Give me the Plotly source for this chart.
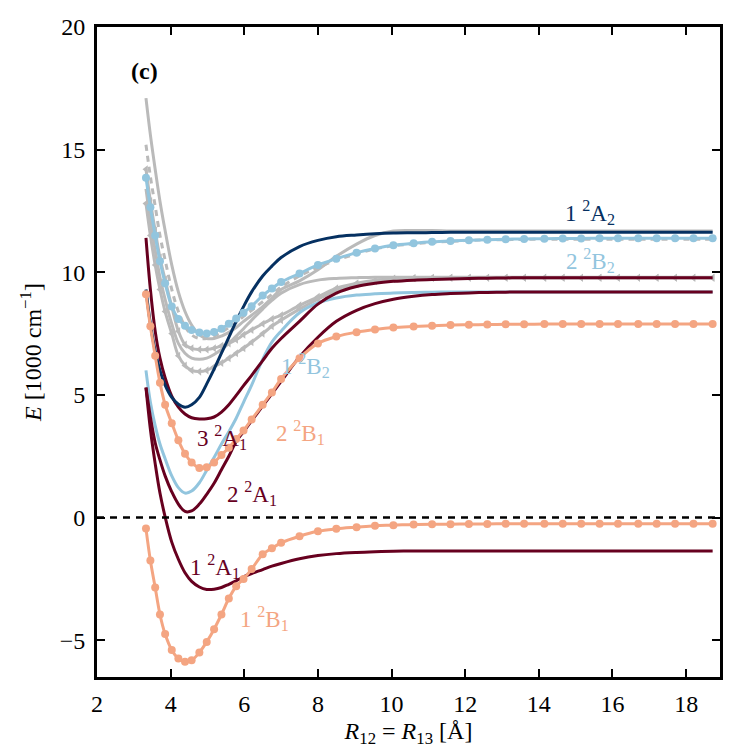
import plotly.graph_objects as go

# bond length grid [Angstrom]
R = [3.33, 3.45, 3.58, 3.71, 3.85, 4.03, 4.21, 4.39, 4.57, 4.78, 4.98, 5.18, 5.38, 5.58, 5.78, 5.98, 6.2, 6.5, 6.75,
     7.0, 7.5, 8.0, 8.5, 9.05, 9.55, 10.05, 10.6, 11.1, 11.6, 12.1, 12.6, 13.1, 13.6, 14.15, 14.65, 15.15, 15.65,
     16.15, 16.7, 17.2, 17.7, 18.2, 18.72]

# energies [1000 cm^-1]
E_1B1 = [-0.45, -1.75, -2.85, -3.95, -4.75, -5.4, -5.75, -5.88, -5.82, -5.5, -5.07, -4.55, -3.95, -3.3, -2.8, -2.5,
         -2.1, -1.5, -1.25, -1.03, -0.76, -0.56, -0.46, -0.39, -0.33, -0.31, -0.28, -0.27, -0.27, -0.26, -0.26,
         -0.25, -0.25, -0.25, -0.25, -0.25, -0.25, -0.25, -0.25, -0.25, -0.25, -0.25, -0.25]
E_2B1 = [9.1, 7.8, 6.6, 5.5, 4.6, 3.85, 3.15, 2.6, 2.25, 2.02, 2.05, 2.25, 2.55, 2.85, 3.2, 3.55, 4.0, 4.6, 5.1,
         5.65, 6.5, 7.1, 7.38, 7.56, 7.67, 7.75, 7.79, 7.82, 7.85, 7.86, 7.87, 7.88, 7.88, 7.89, 7.89, 7.89, 7.89,
         7.89, 7.89, 7.89, 7.89, 7.89, 7.89]
E_2B2 = [13.85, 12.65, 11.5, 10.45, 9.55, 8.6, 8.1, 7.82, 7.65, 7.55, 7.5, 7.57, 7.7, 7.9, 8.12, 8.35, 8.62, 9.05,
         9.34, 9.6, 9.95, 10.3, 10.55, 10.8, 10.97, 11.1, 11.18, 11.24, 11.28, 11.31, 11.33, 11.35, 11.36, 11.37,
         11.38, 11.38, 11.39, 11.39, 11.39, 11.39, 11.39, 11.39, 11.39]
E_1A2 = [9.3, 7.9, 6.8, 6.0, 5.4, 4.9, 4.62, 4.5, 4.6, 4.9, 5.45, 6.05, 6.7, 7.35, 8.0, 8.6, 9.2, 9.85, 10.25,
         10.6, 11.05, 11.3, 11.45, 11.52, 11.57, 11.6, 11.61, 11.62, 11.63, 11.63, 11.63, 11.63, 11.63, 11.63,
         11.63, 11.63, 11.63, 11.63, 11.63, 11.63, 11.63, 11.63, 11.63]
E_1B2 = [6.0, 4.7, 3.75, 3.0, 2.4, 1.7, 1.22, 1.0, 1.08, 1.42, 1.93, 2.45, 3.0, 3.5, 4.05, 4.7, 5.4, 6.45, 7.15,
         7.6, 8.35, 8.75, 8.95, 9.07, 9.12, 9.16, 9.18, 9.19, 9.2, 9.2, 9.2, 9.2, 9.2, 9.2, 9.2, 9.2, 9.2, 9.2, 9.2,
         9.2, 9.2, 9.2, 9.2]
E_1A1 = [5.3, 3.6, 2.2, 1.0, 0.03, -1.0, -1.7, -2.25, -2.6, -2.83, -2.93, -2.92, -2.85, -2.72, -2.58, -2.42,
         -2.28, -2.12, -1.98, -1.87, -1.68, -1.55, -1.47, -1.42, -1.39, -1.37, -1.36, -1.36, -1.36, -1.36, -1.36,
         -1.36, -1.36, -1.36, -1.36, -1.36, -1.36, -1.36, -1.36, -1.36, -1.36, -1.36, -1.36]
E_2A1 = [5.3, 4.1, 3.05, 2.35, 1.7, 1.05, 0.55, 0.25, 0.27, 0.55, 0.95, 1.4, 1.95, 2.5, 3.1, 3.5, 3.95, 4.55, 5.05,
         5.55, 6.55, 7.35, 8.0, 8.45, 8.72, 8.9, 9.02, 9.09, 9.13, 9.16, 9.18, 9.19, 9.2, 9.2, 9.2, 9.2, 9.2, 9.2,
         9.2, 9.2, 9.2, 9.2, 9.2]
E_3A1 = [11.4, 9.3, 7.6, 6.5, 5.7, 4.95, 4.5, 4.22, 4.07, 4.02, 4.03, 4.1, 4.3, 4.6, 4.98, 5.38, 5.8, 6.4, 6.9,
         7.3, 8.0, 8.7, 9.15, 9.42, 9.55, 9.63, 9.68, 9.71, 9.73, 9.75, 9.76, 9.77, 9.78, 9.78, 9.78, 9.78, 9.78,
         9.78, 9.78, 9.78, 9.78, 9.78, 9.78]

# reference calculations (grey)
G_solid_hi = [17.1, 15.6, 14.2, 12.9, 11.7, 10.3, 9.2, 8.4, 7.85, 7.45, 7.3, 7.3, 7.4, 7.55, 7.75, 8.0, 8.25, 8.6,
              8.95, 9.3, 9.65, 10.1, 10.65, 11.15, 11.5, 11.68, 11.7, 11.7, 11.68, 11.68, 11.68, 11.68, 11.68,
              11.68, 11.68, 11.68, 11.68, 11.68, 11.68, 11.68, 11.68, 11.68, 11.68]
G_dash_hi = [15.2, 13.9, 12.7, 11.5, 10.5, 9.3, 8.4, 7.8, 7.45, 7.3, 7.3, 7.4, 7.55, 7.75, 7.95, 8.2, 8.45, 8.8,
             9.1, 9.4, 9.85, 10.2, 10.5, 10.75, 10.95, 11.08, 11.16, 11.22, 11.26, 11.3, 11.32, 11.33, 11.34,
             11.35, 11.35, 11.35, 11.35, 11.35, 11.35, 11.35, 11.35, 11.35, 11.35]
G_tri_hi = [14.2, 12.9, 11.7, 10.6, 9.7, 8.6, 7.6, 7.05, 6.9, 6.85, 6.85, 6.9, 7.0, 7.1, 7.25, 7.45, 7.65, 7.9,
            8.1, 8.25, 8.65, 9.0, 9.35, 9.55, 9.68, 9.74, 9.77, 9.78, 9.78, 9.78, 9.78, 9.78, 9.78, 9.78, 9.78,
            9.78, 9.78, 9.78, 9.78, 9.78, 9.78, 9.78, 9.78]
G_solid_mid = [13.4, 12.1, 10.9, 9.8, 8.9, 7.9, 7.1, 6.7, 6.5, 6.45, 6.5, 6.65, 6.85, 7.1, 7.4, 7.7, 8.05, 8.5,
               8.85, 9.15, 9.5, 9.68, 9.75, 9.78, 9.8, 9.8, 9.8, 9.8, 9.8, 9.8, 9.8, 9.8, 9.8, 9.8, 9.8, 9.8, 9.8,
               9.8, 9.8, 9.8, 9.8, 9.8, 9.8]
G_tri_lo = [12.8, 11.5, 10.3, 9.3, 8.4, 7.5, 6.6, 6.2, 6.0, 5.95, 6.0, 6.15, 6.3, 6.5, 6.7, 6.9, 7.15, 7.5, 7.8,
            8.05, 8.5, 8.9, 9.25, 9.5, 9.64, 9.72, 9.76, 9.77, 9.78, 9.78, 9.78, 9.78, 9.78, 9.78, 9.78, 9.78,
            9.78, 9.78, 9.78, 9.78, 9.78, 9.78, 9.78]

DARKRED = "#67001f"
DARKBLUE = "#053061"
SALMON = "#f4a582"
LIGHTBLUE = "#92c5de"
GREY = "#bababa"
FONT = "Liberation Serif, serif"

fig = go.Figure()

# grey curves first so the coloured states sit on top
fig.add_trace(go.Scatter(x=R, y=G_solid_hi, mode="lines", line=dict(color=GREY, width=3, shape="spline")))
fig.add_trace(go.Scatter(x=R, y=G_dash_hi, mode="lines", line=dict(color=GREY, width=3, dash="6px,5px", shape="spline")))
fig.add_trace(go.Scatter(x=R, y=G_tri_hi, mode="lines+markers", line=dict(color=GREY, width=3, shape="spline"),
                         marker=dict(symbol="triangle-left", size=7, color=GREY)))
fig.add_trace(go.Scatter(x=R, y=G_solid_mid, mode="lines", line=dict(color=GREY, width=3, shape="spline")))
fig.add_trace(go.Scatter(x=R, y=G_tri_lo, mode="lines+markers", line=dict(color=GREY, width=3, shape="spline"),
                         marker=dict(symbol="triangle-left", size=7, color=GREY)))

# coloured states
fig.add_trace(go.Scatter(x=R, y=E_1B2, mode="lines", line=dict(color=LIGHTBLUE, width=3, shape="spline")))
fig.add_trace(go.Scatter(x=R, y=E_3A1, mode="lines", line=dict(color=DARKRED, width=3, shape="spline")))
fig.add_trace(go.Scatter(x=R, y=E_2A1, mode="lines", line=dict(color=DARKRED, width=3, shape="spline")))
fig.add_trace(go.Scatter(x=R, y=E_1A1, mode="lines", line=dict(color=DARKRED, width=3, shape="spline")))
fig.add_trace(go.Scatter(x=R, y=E_1A2, mode="lines", line=dict(color=DARKBLUE, width=3, shape="spline")))
fig.add_trace(go.Scatter(x=R, y=E_2B2, mode="lines+markers", line=dict(color=LIGHTBLUE, width=3, shape="spline"),
                         marker=dict(size=8, color=LIGHTBLUE)))
fig.add_trace(go.Scatter(x=R, y=E_2B1, mode="lines+markers", line=dict(color=SALMON, width=3, shape="spline"),
                         marker=dict(size=8, color=SALMON)))
fig.add_trace(go.Scatter(x=R, y=E_1B1, mode="lines+markers", line=dict(color=SALMON, width=3, shape="spline"),
                         marker=dict(size=8, color=SALMON)))

# zero line
fig.add_shape(type="line", xref="paper", yref="y", x0=0, x1=1, y0=0, y1=0,
              line=dict(color="black", width=2.5, dash="7px,6px"))

labels = [
    ("1 <sup>2</sup>A<sub>2</sub>", 15.4, 12.45, DARKBLUE),
    ("2 <sup>2</sup>B<sub>2</sub>", 15.4, 10.5, LIGHTBLUE),
    ("1 <sup>2</sup>B<sub>2</sub>", 7.65, 6.2, LIGHTBLUE),
    ("3 <sup>2</sup>A<sub>1</sub>", 5.4, 3.28, DARKRED),
    ("2 <sup>2</sup>B<sub>1</sub>", 7.52, 3.45, SALMON),
    ("2 <sup>2</sup>A<sub>1</sub>", 6.21, 0.99, DARKRED),
    ("1 <sup>2</sup>A<sub>1</sub>", 5.2, -1.98, DARKRED),
    ("1 <sup>2</sup>B<sub>1</sub>", 6.56, -4.1, SALMON),
]
for txt, lx, ly, col in labels:
    fig.add_annotation(x=lx, y=ly, text=txt, showarrow=False, xanchor="center", yanchor="middle",
                       font=dict(family=FONT, size=23, color=col))

fig.add_annotation(x=3.3, y=18.2, text="<b>(c)</b>", showarrow=False, xanchor="center", yanchor="middle",
                   font=dict(family=FONT, size=24, color="black"))

axis_style = dict(showline=True, linecolor="black", linewidth=3, mirror="ticks", ticks="inside",
                  ticklen=8, tickwidth=2, tickcolor="black", showgrid=False, zeroline=False, automargin=False,
                  tickfont=dict(family=FONT, size=24, color="black"))

fig.update_xaxes(range=[2, 18.92], tickvals=[2, 4, 6, 8, 10, 12, 14, 16, 18], ticklabelstandoff=3,
                 title=dict(text="<i>R</i><sub>12</sub> = <i>R</i><sub>13</sub> [Å]", standoff=12,
                            font=dict(family=FONT, size=24, color="black")), **axis_style)
fig.update_yaxes(range=[-6.5, 20], tickvals=[-5, 0, 5, 10, 15, 20], ticktext=["−5", "0", "5", "10", "15", "20"],
                 ticklabelstandoff=4,
                 title=dict(text="<i>E</i> [1000 cm<sup>−1</sup>]", standoff=12,
                            font=dict(family=FONT, size=24, color="black")), **axis_style)

# the page body adds an 8 px border, so the figure is sized to fill the 756 px window exactly
fig.update_layout(width=740, height=740, showlegend=False, plot_bgcolor="white", paper_bgcolor="white",
                  font=dict(family=FONT, size=24, color="black"),
                  margin=dict(l=89, r=28, t=19, b=71, autoexpand=False))

fig.write_html("out.html")
